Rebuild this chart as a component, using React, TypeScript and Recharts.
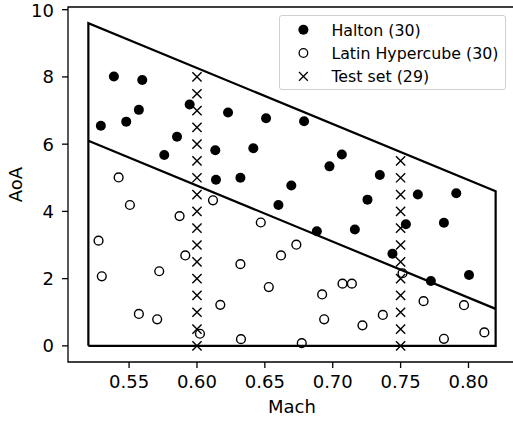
import React from 'react';
import { ScatterChart, Scatter, XAxis, YAxis, ReferenceArea, Legend } from 'recharts';

const FONT = '"DejaVu Sans", sans-serif';

const haltonMach = [
  0.5388, 0.5597, 0.5572, 0.5479, 0.5292, 0.5946, 0.6229, 0.6509, 0.6789, 0.5853,
  0.5759, 0.6135, 0.6415, 0.7067, 0.6976, 0.614, 0.632, 0.6695, 0.7347, 0.7627,
  0.791, 0.7256, 0.66, 0.6883, 0.7163, 0.7539, 0.7819, 0.744, 0.7723, 0.8004,
];
const haltonAoA = [
  8.01, 7.91, 7.02, 6.67, 6.55, 7.18, 6.94, 6.77, 6.68, 6.22,
  5.68, 5.82, 5.88, 5.69, 5.34, 4.94, 5.0, 4.77, 5.08, 4.5,
  4.54, 4.35, 4.19, 3.41, 3.46, 3.62, 3.66, 2.74, 1.93, 2.11,
];

const lhsMach = [
  0.5423, 0.6118, 0.5506, 0.5872, 0.647, 0.5275, 0.5914, 0.6732, 0.6619, 0.632,
  0.5299, 0.5722, 0.7514, 0.6529, 0.7072, 0.7141, 0.6922, 0.7669, 0.7967, 0.6172,
  0.5572, 0.5707, 0.6937, 0.7369, 0.7219, 0.6022, 0.6324, 0.6772, 0.7819, 0.8117,
];
const lhsAoA = [
  5.01, 4.33, 4.19, 3.86, 3.67, 3.13, 2.69, 3.01, 2.69, 2.43,
  2.07, 2.22, 2.16, 1.75, 1.85, 1.85, 1.53, 1.33, 1.21, 1.22,
  0.95, 0.79, 0.79, 0.92, 0.61, 0.36, 0.2, 0.08, 0.21, 0.4,
];

const testMach = [
  0.6, 0.6, 0.6, 0.6, 0.6, 0.6, 0.6, 0.6, 0.6, 0.6, 0.6, 0.6, 0.6, 0.6, 0.6, 0.6, 0.6,
  0.75, 0.75, 0.75, 0.75, 0.75, 0.75, 0.75, 0.75, 0.75, 0.75, 0.75, 0.75,
];
const testAoA = [
  0, 0.5, 1, 1.5, 2, 2.5, 3, 3.5, 4, 4.5, 5, 5.5, 6, 6.5, 7, 7.5, 8,
  0, 0.5, 1, 1.5, 2, 2.5, 3, 3.5, 4, 4.5, 5, 5.5,
];

// design space boundary and the split line
const boxMach = [0.52, 0.52, 0.82, 0.82, 0.52];
const boxAoA = [0, 9.6, 4.6, 0, 0];
const splitMach = [0.52, 0.82];
const splitAoA = [6.1, 1.1];

const xTicks = [0.55, 0.6, 0.65, 0.7, 0.75, 0.8];
const yTicks = [0, 2, 4, 6, 8, 10];
const xDomain = [0.505, 0.835];
const yDomain = [-0.48, 10.08];

const legendLabels = ['Halton (30)', 'Latin Hypercube (30)', 'Test set (29)'];

const zip = (xs: number[], ys: number[]) => xs.map((x, i) => ({ x, y: ys[i] }));

const haltonData = zip(haltonMach, haltonAoA);
const lhsData = zip(lhsMach, lhsAoA);
const testData = zip(testMach, testAoA);
const boxData = zip(boxMach, boxAoA);
const splitData = zip(splitMach, splitAoA);

const Dot = ({ cx, cy }: any) => <circle cx={cx} cy={cy} r={5} fill="#000" />;
const Ring = ({ cx, cy }: any) => (
  <circle cx={cx} cy={cy} r={4.4} fill="none" stroke="#000" strokeWidth={1.4} />
);
const Cross = ({ cx, cy }: any) => (
  <path
    d={`M${cx - 4.6},${cy - 4.6}L${cx + 4.6},${cy + 4.6}M${cx - 4.6},${cy + 4.6}L${cx + 4.6},${cy - 4.6}`}
    stroke="#000"
    strokeWidth={1.4}
    fill="none"
  />
);
const NoMark = () => <g />;

const LegendBox = () => {
  const rows = [13.7, 37, 60.4];
  const markers = [
    (y: number) => <circle cx={23.4} cy={y} r={5} fill="#000" />,
    (y: number) => <circle cx={23.4} cy={y} r={4.3} fill="none" stroke="#000" strokeWidth={1.3} />,
    (y: number) => (
      <path
        d={`M${19},${y - 4.4}L${27.8},${y + 4.4}M${19},${y + 4.4}L${27.8},${y - 4.4}`}
        stroke="#000"
        strokeWidth={1.3}
      />
    ),
  ];
  return (
    <div
      style={{
        width: 227,
        height: 75,
        boxSizing: 'border-box',
        border: '1px solid #d0d0d0',
        borderRadius: 3,
        background: 'rgba(255,255,255,0.8)',
      }}
    >
      <svg width={225} height={73} style={{ display: 'block' }}>
        {legendLabels.map((label, i) => (
          <g key={label}>
            {markers[i](rows[i])}
            <text x={51.4} y={rows[i] + 5.8} fontSize={15.8} fontFamily={FONT} fill="#000">
              {label}
            </text>
          </g>
        ))}
      </svg>
    </div>
  );
};

const YLabel = () => (
  <text
    x={22}
    y={184.5}
    transform="rotate(-90, 22, 184.5)"
    textAnchor="middle"
    fontSize={18}
    fontFamily={FONT}
    fill="#000"
  >
    AoA
  </text>
);

export default function App() {
  const tickStyle = { fontSize: 18, fontFamily: FONT, fill: '#000' };
  return (
    <div
      style={{
        position: 'absolute',
        left: 0,
        top: 0,
        width: 513,
        height: 421,
        overflow: 'hidden',
        background: '#fff',
      }}
    >
      <ScatterChart width={516} height={421} margin={{ top: 7, right: 0, bottom: 0, left: 0 }}>
        <XAxis
          type="number"
          dataKey="x"
          domain={xDomain}
          ticks={xTicks}
          tickFormatter={(v: number) => v.toFixed(2)}
          allowDataOverflow
          height={59}
          tick={tickStyle}
          tickSize={6}
          tickMargin={7.5}
          axisLine={false}
          tickLine={{ stroke: '#000', strokeWidth: 1.3 }}
          label={{
            value: 'Mach',
            position: 'insideBottom',
            offset: 8,
            fontSize: 18,
            fontFamily: FONT,
            fill: '#000',
          }}
        />
        <YAxis
          type="number"
          dataKey="y"
          domain={yDomain}
          ticks={yTicks}
          allowDataOverflow
          width={68}
          tick={tickStyle}
          tickSize={6}
          tickMargin={8}
          axisLine={false}
          tickLine={{ stroke: '#000', strokeWidth: 1.3 }}
          label={<YLabel />}
        />
        <ReferenceArea
          x1={xDomain[0]}
          x2={xDomain[1]}
          y1={yDomain[0]}
          y2={yDomain[1]}
          fill="none"
          fillOpacity={0}
          stroke="#000"
          strokeWidth={1.3}
          ifOverflow="visible"
        />
        <Scatter
          data={boxData}
          line={{ stroke: '#000', strokeWidth: 2.2 }}
          shape={NoMark}
          fill="#000"
          isAnimationActive={false}
        />
        <Scatter
          data={splitData}
          line={{ stroke: '#000', strokeWidth: 2.2 }}
          shape={NoMark}
          fill="#000"
          isAnimationActive={false}
        />
        <Scatter data={haltonData} shape={Dot} fill="#000" isAnimationActive={false} />
        <Scatter data={lhsData} shape={Ring} fill="#000" isAnimationActive={false} />
        <Scatter data={testData} shape={Cross} fill="#000" isAnimationActive={false} />
        <Legend
          layout="vertical"
          align="center"
          verticalAlign="middle"
          wrapperStyle={{ left: 279, top: 15, width: 227, height: 75 }}
          content={<LegendBox />}
        />
      </ScatterChart>
    </div>
  );
}
